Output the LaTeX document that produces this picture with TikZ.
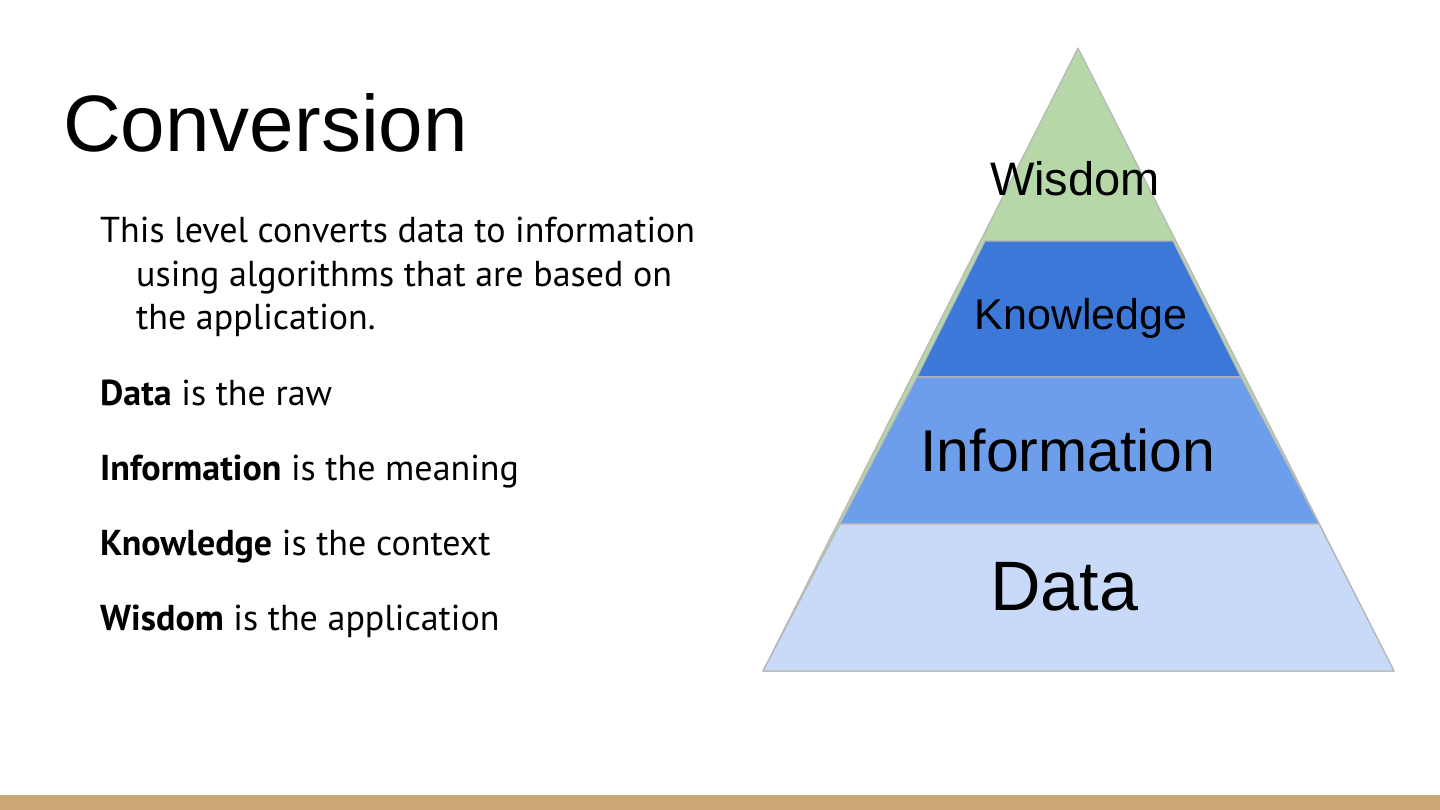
\documentclass[tikz,border=0pt]{standalone}
\usepackage{fontspec}
\setmainfont{PT Sans}
\newfontfamily\arialfont{Liberation Sans}
\definecolor{wisdomgreen}{HTML}{B6D7A8}
\definecolor{knowblue}{HTML}{3C78D8}
\definecolor{infoblue}{HTML}{6D9EEB}
\definecolor{datablue}{HTML}{C9DAF8}
\definecolor{edgegray}{HTML}{B7B7B7}
\definecolor{footbar}{RGB}{205,166,118}
\begin{document}
\begin{tikzpicture}[x=1pt,y=-1pt,
  band/.style={draw=edgegray,line width=1.2pt,line join=round},
  label/.style={inner sep=0pt,anchor=base,font=\arialfont},
  bodytext/.style={inner sep=0pt,anchor=base west,align=left,font=\fontsize{36}{43}\selectfont}]
\useasboundingbox (0,0) rectangle (1440,810);
\fill[white] (0,0) rectangle (1440,810);
\fill[footbar] (0,795) rectangle (1440,810);
\node[inner sep=0pt,anchor=base west,font=\arialfont\fontsize{80}{90}\selectfont] (title) at (63,152) {Conversion};
\node[bodytext] (intro) at (100,329) {This level converts data to information\\
  \hspace*{36pt}using algorithms that are based on\\
  \hspace*{36pt}the application.};
\node[bodytext] (data) at (100,405) {\textbf{Data} is the raw};
\node[bodytext] (info) at (100,480) {\textbf{Information} is the meaning};
\node[bodytext] (know) at (100,555) {\textbf{Knowledge} is the context};
\node[bodytext] (wis) at (100,630) {\textbf{Wisdom} is the application};
\draw[band,fill=wisdomgreen] (1078,48) -- (1394,671) -- (763,671) -- cycle;
\draw[band,fill=knowblue] (985,241) -- (1173,241) -- (1241,377) -- (917,377) -- cycle;
\draw[band,fill=infoblue] (917,377) -- (1241,377) -- (1319,524) -- (840,524) -- cycle;
\draw[band,fill=datablue] (840,524) -- (1319,524) -- (1394,671) -- (763,671) -- cycle;
\node[label,font=\arialfont\fontsize{47}{50}\selectfont] (wlabel) at (1075,196) {Wisdom};
\node[label,font=\arialfont\fontsize{43}{50}\selectfont] (klabel) at (1081,330) {Knowledge};
\node[label,font=\arialfont\fontsize{59}{60}\selectfont] (ilabel) at (1068,471) {Information};
\node[label,font=\arialfont\fontsize{70}{70}\selectfont] (dlabel) at (1064,610) {Data};
\end{tikzpicture}
\end{document}
